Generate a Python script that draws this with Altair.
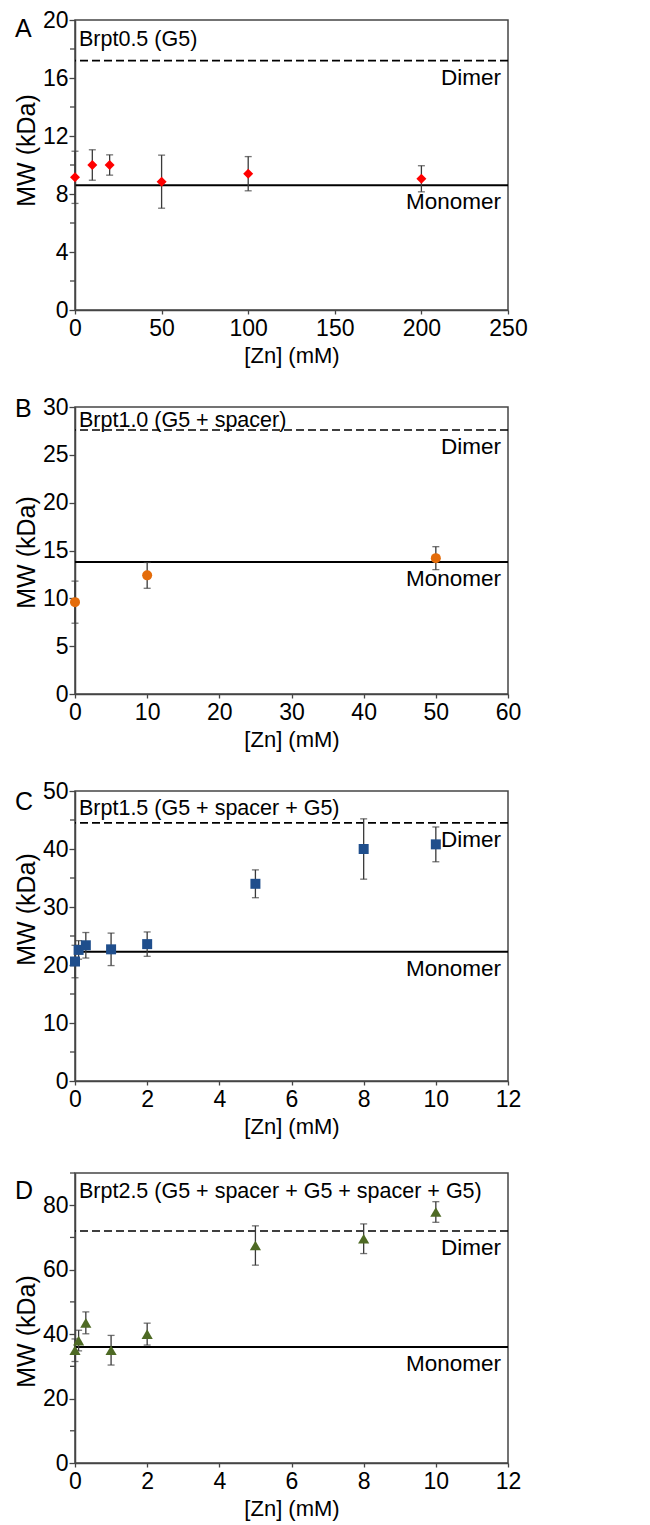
import altair as alt
import pandas as pd

FONT = "Liberation Sans"
AXIS_COLOR = "#454545"
ERR_COLOR = "#3a3a3a"

# ---- Panel A: Brpt0.5 (G5)
a_x = [0, 10, 20, 50, 100, 200]
a_y = [9.15, 10.0, 10.0, 8.85, 9.4, 9.05]
a_err = [1.8, 1.05, 0.7, 1.83, 1.18, 0.9]
a_mono, a_dimer = 8.6, 17.2
a_xticks = [0, 50, 100, 150, 200, 250]
a_yticks = [0, 4, 8, 12, 16, 20]
a_yminor = [2, 6, 10, 14, 18]

# ---- Panel B: Brpt1.0 (G5 + spacer)
b_x = [0, 10, 50]
b_y = [9.6, 12.4, 14.2]
b_err = [2.2, 1.35, 1.2]
b_mono, b_dimer = 13.8, 27.6
b_xticks = [0, 10, 20, 30, 40, 50, 60]
b_yticks = [0, 5, 10, 15, 20, 25, 30]
b_yminor = []

# ---- Panel C: Brpt1.5 (G5 + spacer + G5)
c_x = [0, 0.1, 0.3, 1, 2, 5, 8, 10]
c_y = [20.6, 22.6, 23.4, 22.7, 23.6, 34.0, 40.0, 40.8]
c_err = [2.8, 1.6, 2.2, 2.8, 2.1, 2.4, 5.2, 3.0]
c_mono, c_dimer = 22.3, 44.5
c_xticks = [0, 2, 4, 6, 8, 10, 12]
c_yticks = [0, 10, 20, 30, 40, 50]
c_yminor = [5, 15, 25, 35, 45]

# ---- Panel D: Brpt2.5 (G5 + spacer + G5 + spacer + G5)
d_x = [0, 0.1, 0.3, 1, 2, 5, 8, 10]
d_y = [35.0, 38.0, 43.5, 35.0, 40.0, 67.5, 69.6, 77.9]
d_err = [3.5, 3.2, 3.4, 4.6, 3.4, 6.1, 4.6, 3.2]
d_mono, d_dimer = 36.0, 72.0
d_xticks = [0, 2, 4, 6, 8, 10, 12]
d_yticks = [0, 20, 40, 60, 80]
d_yminor = [10, 30, 50, 70, 90]

W = 433
H = 290


def panel(letter, title, xs, ys, errs, mono, dimer, xticks, yticks, yminor,
          shape, color, title_y, ytitle_y, letter_y, h=H, msize=100):
    df = pd.DataFrame({
        "x": xs, "y": ys,
        "lo": [v - e for v, e in zip(ys, errs)],
        "hi": [v + e for v, e in zip(ys, errs)],
    })
    xs_scale = alt.Scale(domain=[xticks[0], xticks[-1]], nice=False, zero=False)
    ys_scale = alt.Scale(domain=[yticks[0], max(yticks + yminor)], nice=False, zero=False)
    xaxis = alt.Axis(values=xticks, tickSize=4, labelFontSize=23, titleFontSize=22,
                     labelPadding=3, titlePadding=5, labelFont=FONT, titleFont=FONT,
                     titleFontWeight="normal", labelColor="black", titleColor="black",
                     domainColor=AXIS_COLOR, tickColor=AXIS_COLOR, domainWidth=1.5,
                     tickWidth=1.3, grid=False, labelFlush=False)
    yaxis = alt.Axis(values=yticks, tickSize=6, labelFontSize=23, titleFontSize=25,
                     labelPadding=1, titlePadding=3, labelFont=FONT, titleFont=FONT,
                     titleFontWeight="normal", labelColor="black", titleColor="black",
                     domainColor=AXIS_COLOR, tickColor=AXIS_COLOR, domainWidth=1.5,
                     tickWidth=1.3, grid=False, titleY=ytitle_y)
    X = lambda: alt.X("x:Q", scale=xs_scale, axis=xaxis, title="[Zn] (mM)")
    Y = lambda f: alt.Y(f, scale=ys_scale, axis=yaxis, title="MW (kDa)")
    base = alt.Chart(df)

    err = base.mark_rule(color=ERR_COLOR, strokeWidth=1.3).encode(
        x=X(), y=Y("lo:Q"), y2="hi:Q")
    cap_lo = base.mark_tick(orient="horizontal", size=7, thickness=1.3, color=ERR_COLOR).encode(
        x=X(), y=Y("lo:Q"))
    cap_hi = base.mark_tick(orient="horizontal", size=7, thickness=1.3, color=ERR_COLOR).encode(
        x=X(), y=Y("hi:Q"))
    pts = base.mark_point(shape=shape, filled=True, size=msize, color=color, opacity=1).encode(
        x=X(), y=Y("y:Q"))
    lines_df = pd.DataFrame({"v": [mono, dimer], "kind": ["Monomer", "Dimer"]})
    mono_line = alt.Chart(lines_df).transform_filter(alt.datum.kind == "Monomer").mark_rule(
        color="black", strokeWidth=2).encode(y=Y("v:Q"))
    dimer_line = alt.Chart(lines_df).transform_filter(alt.datum.kind == "Dimer").mark_rule(
        color="black", strokeWidth=1.6, strokeDash=[8, 4]).encode(y=Y("v:Q"))
    line_text = alt.Chart(lines_df).mark_text(
        align="right", baseline="top", dy=6, fontSize=22.5, font=FONT, color="black").encode(
        y=Y("v:Q"), x=alt.value(W - 7), text="kind:N")
    minor = None
    if yminor:
        minor = alt.Chart(pd.DataFrame({"v": yminor})).mark_rule(
            color=AXIS_COLOR, strokeWidth=1.3).encode(
            y=Y("v:Q"), x=alt.value(-5), x2=alt.value(0))
    ttl = alt.Chart(pd.DataFrame({"t": [title]})).mark_text(
        align="left", baseline="alphabetic", fontSize=21.5, font=FONT, color="black").encode(
        x=alt.value(4), y=alt.value(title_y), text="t:N")
    let = alt.Chart(pd.DataFrame({"t": [letter]})).mark_text(
        align="left", baseline="alphabetic", fontSize=25, font=FONT, color="black").encode(
        x=alt.value(-60), y=alt.value(letter_y), text="t:N")
    layers = [mono_line, dimer_line, err, cap_lo, cap_hi, pts, line_text, ttl, let]
    if minor is not None:
        layers.insert(0, minor)
    return alt.layer(*layers).properties(width=W, height=h)


pA = panel("A", "Brpt0.5 (G5)", a_x, a_y, a_err, a_mono, a_dimer,
           a_xticks, a_yticks, a_yminor, "diamond", "#ff0000", 26, 130, 17)
pB = panel("B", "Brpt1.0 (G5 + spacer)", b_x, b_y, b_err, b_mono, b_dimer,
           b_xticks, b_yticks, b_yminor, "circle", "#e46c0a", 20, 145, 10, h=287)
pC = panel("C", "Brpt1.5 (G5 + spacer + G5)", c_x, c_y, c_err, c_mono, c_dimer,
           c_xticks, c_yticks, c_yminor, "square", "#1f4e8c", 24, 118, 19)
pD = panel("D", "Brpt2.5 (G5 + spacer + G5 + spacer + G5)", d_x, d_y, d_err, d_mono, d_dimer,
           d_xticks, d_yticks, d_yminor, "triangle-up", "#4e6a24", 25, 158, 26, msize=125)

top3 = alt.vconcat(pA, pB, pC, spacing=28)
chart = alt.vconcat(top3, pD, spacing=33).properties(
    padding={"left": 5, "top": 0, "right": 5, "bottom": 5},
    background="white",
).configure_view(stroke=AXIS_COLOR, strokeWidth=1.5)

chart.save("out.html", embed_options={"renderer": "svg", "actions": False})
